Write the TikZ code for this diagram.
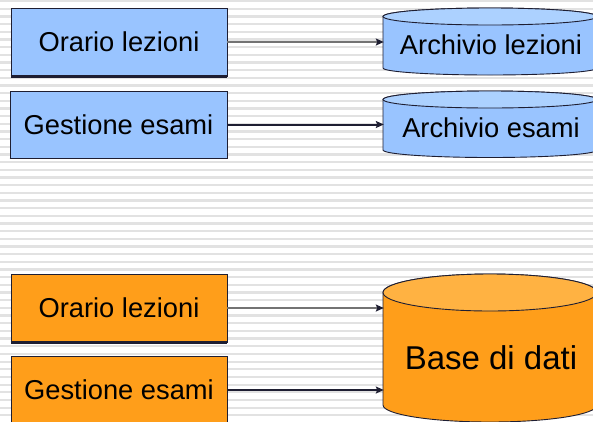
\documentclass[tikz,border=0pt]{standalone}
\usepackage{fontspec}
\setmainfont{Liberation Sans}
\usetikzlibrary{arrows.meta}
\definecolor{boxblue}{RGB}{153,196,255}
\definecolor{topblue}{RGB}{172,209,255}
\definecolor{boxorange}{RGB}{255,158,26}
\definecolor{toporange}{RGB}{255,178,66}
\definecolor{edge}{RGB}{30,30,50}
\definecolor{stripe}{RGB}{226,226,226}
\definecolor{wire}{RGB}{115,115,115}

\begin{document}
\begin{tikzpicture}[x=1pt,y=1pt,
  proc/.style={draw=edge, line width=0.8pt, minimum width=216pt, minimum height=68pt,
    inner sep=0pt, font=\fontsize{27.3}{32}\selectfont},
  cyllabel/.style={minimum width=214pt, inner sep=0pt},
  cylbody/.style={draw=edge, line width=0.9pt},
  flow/.style={line width=2pt, -{Stealth[length=8pt,width=7pt,inset=1.5pt,color=edge]}},
  baseline/.style={draw=edge, line width=#1},
]
\useasboundingbox (0,0) rectangle (593,-421);
\clip (0,0) rectangle (593,-421);

% striped background
\fill[white] (0,0) rectangle (593,-421);
\foreach \k in {0,...,55}
  \fill[stripe] (0,-7.67*\k) rectangle (593,-7.67*\k-2.3);

% ---- separate archives ----
\node[proc, fill=boxblue] (ol1) at (119,-42) {Orario lezioni};
\draw[baseline=2.6pt] (ol1.south west) -- (ol1.south east);
\node[proc, fill=boxblue, minimum width=217pt, minimum height=67pt] (ge1) at (118.5,-124.5) {Gestione esami};
\draw[baseline=1.6pt] (ge1.south west) -- (ge1.south east);

% archive cylinder: lessons
\filldraw[cylbody, fill=boxblue] (383,-16.5) -- (383,-68)
  arc[start angle=180, end angle=360, x radius=107, y radius=7] -- (597,-16.5)
  arc[start angle=0, end angle=180, x radius=107, y radius=8.5] -- cycle;
\filldraw[cylbody, fill=topblue] (490,-16.5) ellipse[x radius=107, y radius=8.5];
\node[cyllabel, font=\fontsize{27.3}{32}\selectfont] (al) at (491,-45) {Archivio lezioni};

% archive cylinder: exams
\filldraw[cylbody, fill=boxblue] (383,-99.5) -- (383,-150)
  arc[start angle=180, end angle=360, x radius=107, y radius=7.5] -- (597,-99.5)
  arc[start angle=0, end angle=180, x radius=107, y radius=8.5] -- cycle;
\filldraw[cylbody, fill=topblue] (490,-99.5) ellipse[x radius=107, y radius=8.5];
\node[cyllabel, font=\fontsize{27.3}{32}\selectfont] (ae) at (491,-128) {Archivio esami};

\draw[flow, wire] (ol1.east) -- (ol1.east -| al.west);
\draw[flow, edge] (ge1.east) -- (ge1.east -| ae.west);

% ---- shared database ----
\node[proc, fill=boxorange] (ol2) at (119,-308) {Orario lezioni};
\draw[baseline=2.6pt] (ol2.south west) -- (ol2.south east);
\node[proc, fill=boxorange, minimum height=67pt] (ge2) at (119,-390) {Gestione esami};

\filldraw[cylbody, fill=boxorange] (383,-292.5) -- (383,-405)
  arc[start angle=180, end angle=360, x radius=107, y radius=17] -- (597,-292.5)
  arc[start angle=0, end angle=180, x radius=107, y radius=18.5] -- cycle;
\filldraw[cylbody, fill=toporange] (490,-292.5) ellipse[x radius=107, y radius=18.5];
\node[cyllabel, font=\fontsize{33}{38}\selectfont] (db) at (491,-357.5) {Base di dati};

\draw[flow, wire] (ol2.east) -- (ol2.east -| db.west);
\draw[flow, edge] (ge2.east) -- (ge2.east -| db.west);
\end{tikzpicture}
\end{document}
